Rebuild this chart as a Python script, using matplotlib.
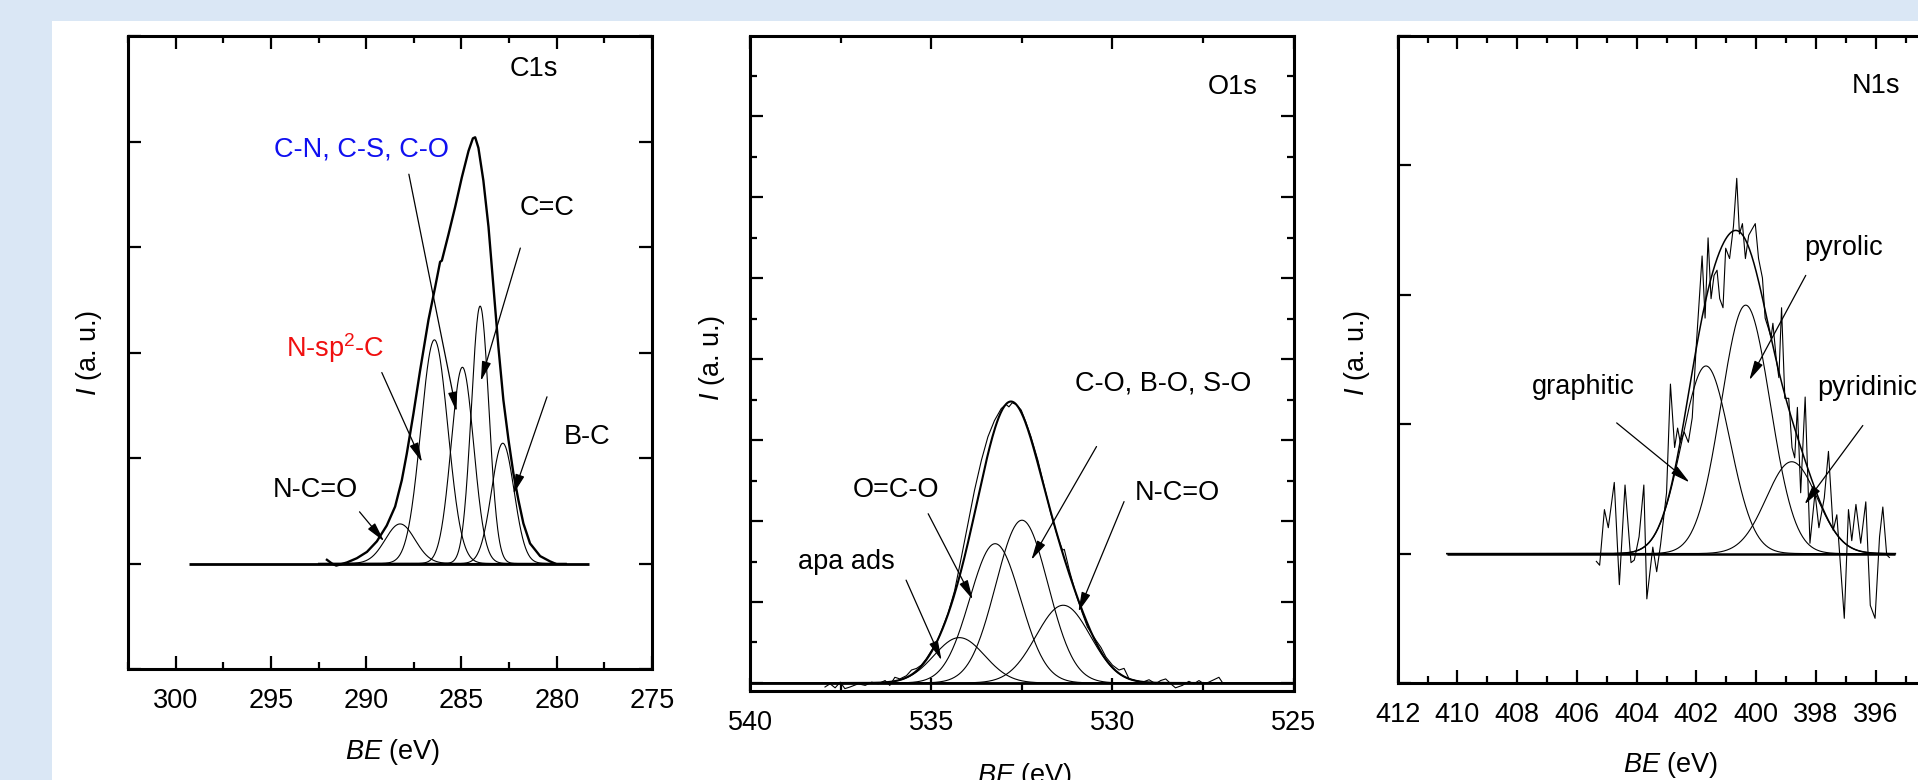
import numpy as np
import matplotlib.pyplot as plt
from matplotlib.patches import Rectangle
from matplotlib.ticker import MultipleLocator

plt.rcParams['font.family'] = ['Liberation Sans Narrow', 'Liberation Sans', 'DejaVu Sans']
plt.rcParams['mathtext.fontset'] = 'custom'
plt.rcParams['mathtext.rm'] = 'Liberation Sans'
plt.rcParams['mathtext.it'] = 'Liberation Sans:italic'
plt.rcParams['font.size'] = 19.5

# ---- C1s : fitted components (centre eV, height, sigma eV) + measured spectrum
c1s_centre = [288.22, 286.42, 284.95, 284.02, 282.83]
c1s_height = [0.375, 2.12, 1.86, 2.44, 1.14]
c1s_sigma = [0.78, 0.71, 0.59, 0.46, 0.59]
c1s_be = [292.06, 291.80, 291.57, 291.01, 290.49, 289.96, 289.44, 288.92, 288.48,
          288.13, 287.87, 287.52, 287.17, 286.73, 286.38, 286.12, 286.03, 285.68,
          285.33, 284.98, 284.63, 284.40, 284.28, 284.11, 283.85, 283.58, 283.32,
          283.06, 282.80, 282.53, 282.27, 282.01, 281.75, 281.40, 280.87, 280.35, 280.09]
c1s_int = [0.035, 0.0, -0.02, 0.01, 0.05, 0.11, 0.21, 0.36, 0.54,
           0.79, 1.04, 1.42, 1.83, 2.31, 2.62, 2.86, 2.87, 3.12,
           3.38, 3.66, 3.91, 4.03, 4.04, 3.94, 3.63, 3.19, 2.62,
           2.05, 1.55, 1.17, 0.85, 0.60, 0.38, 0.19, 0.07, 0.02, 0.0]

# ---- O1s
o1s_centre = [534.23, 533.24, 532.50, 531.36]
o1s_height = [0.56, 1.72, 2.01, 0.96]
o1s_sigma = [0.70, 0.70, 0.72, 0.75]
o1s_be = [537.94, 537.80, 537.66, 537.52, 537.39, 537.25, 537.02, 536.83, 536.65, 536.47,
          536.28, 536.15, 536.01, 535.87, 535.69, 535.55, 535.41, 535.28, 535.14, 535.00,
          534.86, 534.72, 534.54, 534.36, 534.17, 533.99, 533.81, 533.62, 533.44, 533.26,
          533.07, 532.94, 532.86, 532.77, 532.66, 532.52, 532.39, 532.25, 532.06, 531.88,
          531.70, 531.51, 531.38, 531.33, 531.19, 531.01, 530.83, 530.69, 530.60, 530.46,
          530.32, 530.18, 530.00, 529.82, 529.68, 529.54, 529.36, 529.17, 528.99, 528.81,
          528.67, 528.53, 528.39, 528.26, 528.07, 527.89, 527.75, 527.61, 527.48, 527.34,
          527.20, 527.06, 526.97]
o1s_int = [-0.05, -0.01, -0.06, 0.01, -0.07, -0.05, -0.01, -0.03, 0.01, -0.01,
           0.03, -0.03, 0.07, 0.05, 0.09, 0.16, 0.18, 0.22, 0.30, 0.40,
           0.49, 0.65, 0.86, 1.14, 1.56, 1.97, 2.38, 2.75, 3.04, 3.24,
           3.39, 3.44, 3.41, 3.46, 3.44, 3.37, 3.22, 3.04, 2.75, 2.42,
           2.09, 1.80, 1.64, 1.65, 1.39, 1.10, 0.86, 0.69, 0.63, 0.53,
           0.44, 0.32, 0.22, 0.16, 0.18, 0.05, 0.03, 0.01, 0.04, -0.01,
           0.03, 0.05, -0.01, -0.06, -0.03, 0.02, -0.01, 0.03, -0.01, 0.01,
           0.04, 0.07, 0.01]

# ---- N1s
n1s_centre = [401.68, 400.35, 398.81]
n1s_height = [1.45, 1.92, 0.71]
n1s_sigma = [0.80, 0.82, 0.85]
n1s_be = [405.35, 405.24, 405.08, 404.95, 404.75, 404.58, 404.39, 404.19, 404.08, 403.92,
          403.76, 403.66, 403.46, 403.33, 403.20, 403.00, 402.87, 402.73, 402.63, 402.54,
          402.41, 402.27, 402.14, 402.01, 401.88, 401.81, 401.71, 401.61, 401.51, 401.41,
          401.31, 401.22, 401.11, 401.02, 400.89, 400.76, 400.65, 400.56, 400.46, 400.36,
          400.25, 400.13, 400.03, 399.92, 399.79, 399.70, 399.59, 399.50, 399.44, 399.33,
          399.24, 399.15, 399.04, 398.91, 398.80, 398.71, 398.62, 398.51, 398.36, 398.20,
          398.03, 397.90, 397.72, 397.58, 397.42, 397.30, 397.05, 396.91, 396.80, 396.66,
          396.50, 396.33, 396.18, 396.02, 395.87, 395.76, 395.63, 395.54]
n1s_int = [-0.06, -0.09, 0.34, 0.20, 0.55, -0.24, 0.53, -0.07, -0.05, 0.13,
           0.53, -0.35, 0.05, -0.14, 0.07, 0.47, 1.31, 0.82, 0.97, 0.86,
           0.94, 0.86, 1.05, 1.59, 2.05, 2.30, 1.82, 2.44, 1.97, 2.15,
           2.19, 1.97, 1.90, 2.36, 2.28, 2.53, 2.90, 2.47, 2.55, 2.28,
           2.46, 2.51, 2.55, 2.28, 2.13, 1.82, 1.74, 1.67, 1.78, 1.51,
           1.36, 1.90, 1.20, 1.20, 0.82, 0.74, 1.13, 0.47, 1.21, 0.08,
           0.47, 0.20, 0.43, 0.79, 0.18, 0.30, -0.50, 0.34, 0.10, 0.38,
           0.08, 0.40, -0.40, -0.50, 0.13, 0.36, -0.01, -0.03]

x_ticks_c = [300, 295, 290, 285, 280, 275]
x_ticks_o = [540, 535, 530, 525]
x_ticks_n = [412, 410, 408, 406, 404, 402, 400, 398, 396]


def peak(x, c, h, s):
    return h * np.exp(-(x - c) ** 2 / (2 * s * s))


def arrow(ax, tail, head):
    ax.annotate('', xy=head, xytext=tail,
                arrowprops=dict(arrowstyle='-|>,head_length=0.85,head_width=0.2',
                                mutation_scale=14, color='black', lw=0.9,
                                shrinkA=0, shrinkB=0))


def style(ax, xticks, xmin, ymaj, ymin):
    for s in ax.spines.values():
        s.set_linewidth(2.2)
    ax.xaxis.set_minor_locator(MultipleLocator(xmin))
    ax.set_xticks(xticks)
    ax.yaxis.set_major_locator(MultipleLocator(ymaj))
    if ymin:
        ax.yaxis.set_minor_locator(MultipleLocator(ymin))
    ax.tick_params(which='both', direction='in', top=True, right=True, width=1.6)
    ax.tick_params(which='major', length=9.5)
    ax.tick_params(which='minor', length=5)
    ax.tick_params(axis='x', pad=14, labelsize=19.5)
    ax.tick_params(axis='y', labelleft=False)


W, H = 1918, 780
fig = plt.figure(figsize=(W / 100, H / 100), dpi=100, facecolor='#dae7f5')
fig.add_artist(Rectangle((52 / W, 0), 1, 1 - 21 / H, transform=fig.transFigure,
                         facecolor='white', edgecolor='none', zorder=0))

ax1 = fig.add_axes([128 / W, 1 - 669 / H, 524 / W, 633 / H])
ax2 = fig.add_axes([750.4 / W, 1 - 690.5 / H, 543.1 / W, 654.5 / H])
ax3 = fig.add_axes([1397.7 / W, 1 - 683 / H, 537.7 / W, 647 / H])

# C1s
xc = np.linspace(292.5, 279.5, 500)
for c, h, s in zip(c1s_centre, c1s_height, c1s_sigma):
    ax1.plot(xc, peak(xc, c, h, s), color='black', lw=0.8)
ax1.hlines(0, 299.3, 278.3, color='black', lw=2)
ax1.plot(c1s_be, c1s_int, color='black', lw=1.7)
ax1.set_xlim(302.5, 275)
ax1.set_ylim(-1, 5)
style(ax1, x_ticks_c, 2.5, 1, None)
ax1.text(281.2, 4.69, 'C1s', ha='center', va='center')
ax1.text(290.25, 3.92, 'C-N, C-S, C-O', color='#1010f0', ha='center', va='center')
ax1.text(280.5, 3.37, 'C=C', ha='center', va='center')
ax1.text(291.64, 2.04, r'N-sp$\mathregular{^2}$-C', color='#f01010', ha='center', va='center')
ax1.text(278.4, 1.2, 'B-C', ha='center', va='center')
ax1.text(292.69, 0.70, 'N-C=O', ha='center', va='center')
arrow(ax1, (287.76, 3.69), (285.26, 1.44))
arrow(ax1, (281.91, 2.99), (283.98, 1.73))
arrow(ax1, (289.18, 1.81), (287.07, 0.96))
arrow(ax1, (280.51, 1.58), (282.27, 0.66))
arrow(ax1, (290.35, 0.49), (289.06, 0.21))

# O1s
xo = np.linspace(540, 525, 600)
env_o = np.zeros_like(xo)
for c, h, s in zip(o1s_centre, o1s_height, o1s_sigma):
    yo = peak(xo, c, h, s)
    env_o += yo
    ax2.plot(xo, yo, color='black', lw=0.8)
ax2.hlines(0, 540, 525, color='black', lw=2)
ax2.plot(o1s_be, o1s_int, color='black', lw=0.8)
sel = (xo < 537.5) & (xo > 527.5)
ax2.plot(xo[sel], env_o[sel], color='black', lw=1.5)
ax2.set_xlim(540, 525)
ax2.set_ylim(-0.093, 7.99)
style(ax2, x_ticks_o, 2.5, 1, 0.5)
ax2.text(526.68, 7.36, 'O1s', ha='center', va='center')
ax2.text(528.59, 3.70, 'C-O, B-O, S-O', ha='center', va='center')
ax2.text(535.99, 2.38, 'O=C-O', ha='center', va='center')
ax2.text(528.22, 2.35, 'N-C=O', ha='center', va='center')
ax2.text(537.35, 1.49, 'apa ads', ha='center', va='center')
arrow(ax2, (530.44, 2.92), (532.24, 1.52))
arrow(ax2, (535.09, 2.09), (533.86, 1.03))
arrow(ax2, (529.68, 2.24), (530.94, 0.88))
arrow(ax2, (535.70, 1.27), (534.72, 0.28))

# N1s
xn = np.linspace(410.35, 395.34, 600)
env_n = np.zeros_like(xn)
for c, h, s in zip(n1s_centre, n1s_height, n1s_sigma):
    yn = peak(xn, c, h, s)
    env_n += yn
    ax3.plot(xn, yn, color='black', lw=0.8)
ax3.hlines(0, 410.35, 395.34, color='black', lw=1.8)
ax3.plot(n1s_be, n1s_int, color='black', lw=0.8)
ax3.plot(xn, env_n, color='black', lw=1.1)
ax3.set_xlim(412, 394)
ax3.set_ylim(-1, 4)
style(ax3, x_ticks_n, 1, 1, None)
ax3.text(396.0, 3.61, 'N1s', ha='center', va='center')
ax3.text(397.09, 2.36, 'pyrolic', ha='center', va='center')
ax3.text(405.8, 1.29, 'graphitic', ha='center', va='center')
ax3.text(396.27, 1.28, 'pyridinic', ha='center', va='center')
arrow(ax3, (398.34, 2.15), (400.23, 1.34))
arrow(ax3, (404.67, 1.01), (402.23, 0.55))
arrow(ax3, (396.43, 0.99), (398.38, 0.38))

# axis titles
for xl, yl in [(89, 353), (712, 358), (1357, 353)]:
    fig.text(xl / W, 1 - yl / H, r'$I$ (a. u.)', rotation=90, ha='center', va='center', fontsize=19.5)
for xl, yl in [(392.9, 752), (1025, 776), (1670.5, 765)]:
    fig.text(xl / W, 1 - yl / H, r'$BE$ (eV)', ha='center', va='center', fontsize=19.5)

fig.savefig('out.png', dpi=100, facecolor=fig.get_facecolor())
